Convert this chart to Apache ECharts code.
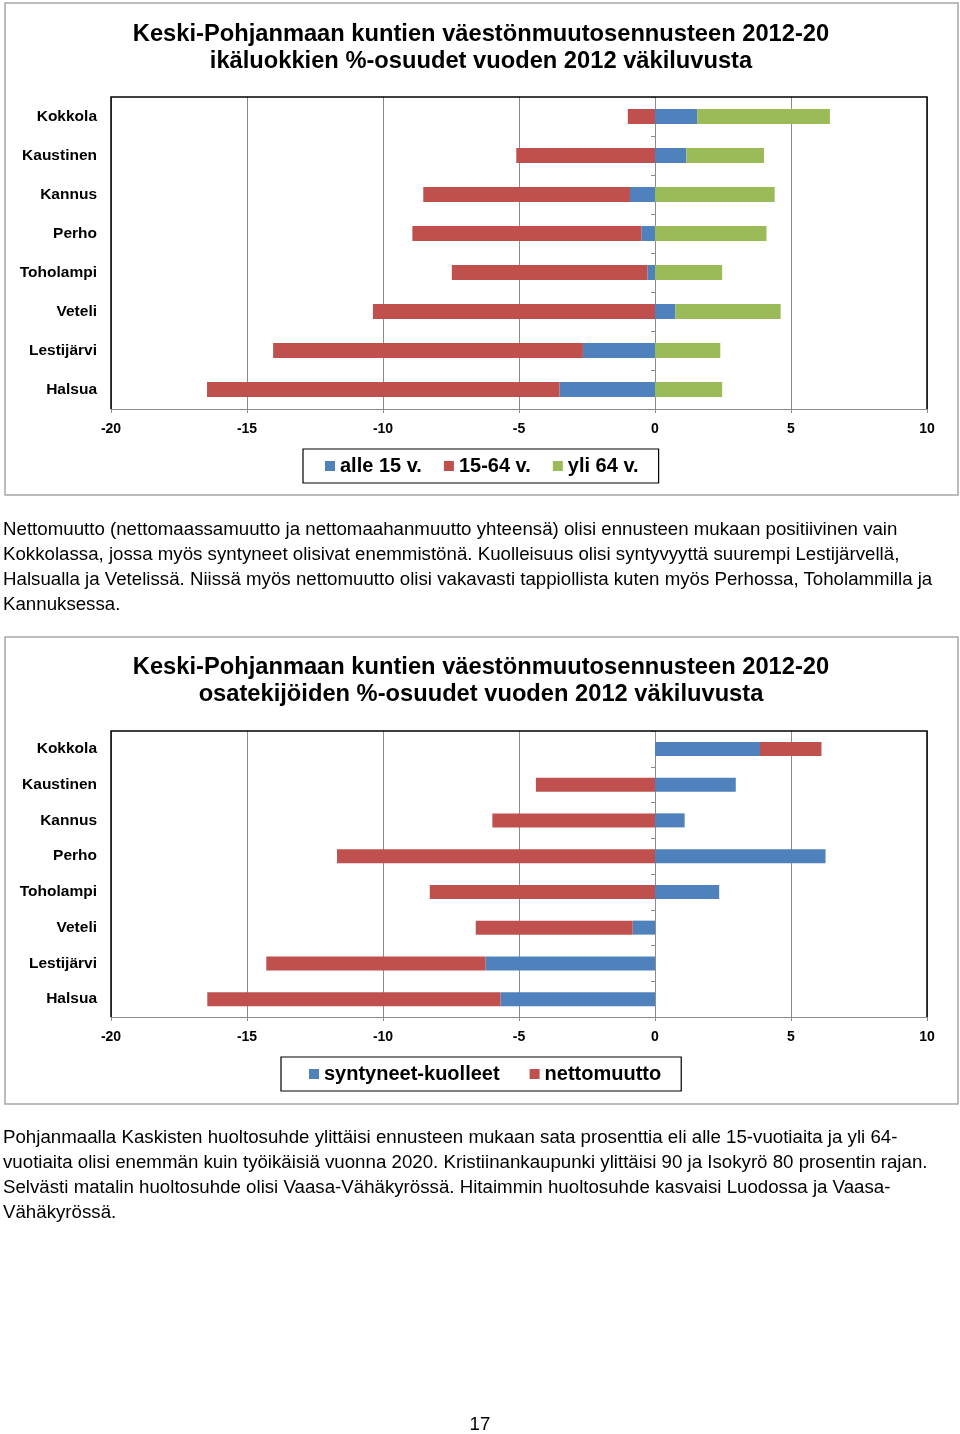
<!DOCTYPE html>
<html>
<head>
<meta charset="utf-8">
<script src="https://cdn.jsdelivr.net/npm/echarts@6/dist/echarts.min.js"></script>
<style>
  html, body { margin: 0; padding: 0; background: #fff; }
  #wrap { position: relative; width: 960px; height: 1434px; }
  #chart { position: absolute; left: 0; top: 0; width: 960px; height: 1434px; }
  .para { position: absolute; left: 3px; font-family: "Liberation Sans", Arial, sans-serif; font-size: 18.7px; line-height: 25px; color: #000; white-space: nowrap; }
  #pagenum { position: absolute; left: 0; width: 960px; text-align: center; top: 1413px; font-family: "Liberation Sans", Arial, sans-serif; font-size: 18.7px; line-height: 22px; }
</style>
</head>
<body>
<div id="wrap">
  <div id="chart"></div>
  <div class="para" style="top:516px">Nettomuutto (nettomaassamuutto ja nettomaahanmuutto yhteensä) olisi ennusteen mukaan positiivinen vain<br>Kokkolassa, jossa myös syntyneet olisivat enemmistönä. Kuolleisuus olisi syntyvyyttä suurempi Lestijärvellä,<br>Halsualla ja Vetelissä. Niissä myös nettomuutto olisi vakavasti tappiollista kuten myös Perhossa, Toholammilla ja<br>Kannuksessa.</div>
  <div class="para" style="top:1124px">Pohjanmaalla Kaskisten huoltosuhde ylittäisi ennusteen mukaan sata prosenttia eli alle 15-vuotiaita ja yli 64-<br>vuotiaita olisi enemmän kuin työikäisiä vuonna 2020. Kristiinankaupunki ylittäisi 90 ja Isokyrö 80 prosentin rajan.<br>Selvästi matalin huoltosuhde olisi Vaasa-Vähäkyrössä. Hitaimmin huoltosuhde kasvaisi Luodossa ja Vaasa-<br>Vähäkyrössä.</div>
  <div id="pagenum">17</div>
</div>
<script>
// ---- data ----
const municipalities = ['Kokkola', 'Kaustinen', 'Kannus', 'Perho', 'Toholampi', 'Veteli', 'Lestijärvi', 'Halsua'];
// chart 1: age groups (% of 2012 population)
const alle15 = [1.55, 1.15, -0.92, -0.5, -0.28, 0.75, -2.65, -3.51];
const ika15_64 = [-1.0, -5.1, -7.6, -8.42, -7.19, -10.37, -11.39, -12.96];
const yli64 = [4.88, 2.86, 4.4, 4.1, 2.47, 3.87, 2.4, 2.47];
// chart 2: components
const syntyneetKuolleet = [3.86, 2.97, 1.09, 6.27, 2.36, -0.82, -6.23, -5.68];
const nettomuutto = [2.26, -4.38, -5.98, -11.69, -8.28, -5.77, -8.06, -10.78];
// titles / legends / axis
const title1 = 'Keski-Pohjanmaan kuntien väestönmuutosennusteen 2012-20\nikäluokkien %-osuudet vuoden 2012 väkiluvusta';
const title2 = 'Keski-Pohjanmaan kuntien väestönmuutosennusteen 2012-20\nosatekijöiden %-osuudet vuoden 2012 väkiluvusta';
const legend1 = ['alle 15 v.', '15-64 v.', 'yli 64 v.'];
const legend2 = ['syntyneet-kuolleet', 'nettomuutto'];
const xMin = -20, xMax = 10, xStep = 5;

const BLUE = '#4F81BD', RED = '#C0504D', GREEN = '#9BBB59';
const FONT = '"Liberation Sans", Arial, sans-serif';

const chart = echarts.init(document.getElementById('chart'), null, { renderer: 'canvas' });

function xAxisCfg(gridIndex) {
  return {
    type: 'value', gridIndex, min: xMin, max: xMax, interval: xStep,
    axisLine: { show: true, onZero: false, lineStyle: { color: '#8c8c8c', width: 1 } },
    axisTick: { show: true, length: 4, lineStyle: { color: '#8c8c8c' } },
    axisLabel: { color: '#000', fontFamily: FONT, fontWeight: 'bold', fontSize: 14, margin: 13 },
    splitLine: { show: true, lineStyle: { color: '#8c8c8c', width: 1 } }
  };
}
function yLabelAxis(gridIndex) {
  return {
    type: 'category', gridIndex, data: municipalities, inverse: true, position: 'left',
    axisLine: { show: false, onZero: false }, axisTick: { show: false },
    axisLabel: { color: '#000', fontFamily: FONT, fontWeight: 'bold', fontSize: 15.5, margin: 14 },
    splitLine: { show: false }
  };
}
function yZeroAxis(gridIndex) {
  return {
    type: 'category', gridIndex, data: municipalities, inverse: true, position: 'left',
    axisLine: { show: true, onZero: true, lineStyle: { color: '#8c8c8c', width: 1 } },
    axisTick: { show: true, length: 4, lineStyle: { color: '#8c8c8c' } },
    axisLabel: { show: false }, splitLine: { show: false }
  };
}
function bar(name, data, color, xi, yi, stack, w) {
  return { name, type: 'bar', data, xAxisIndex: xi, yAxisIndex: yi, stack, barWidth: w,
           itemStyle: { color }, emphasis: { disabled: true }, animation: false };
}
const legendBase = {
  orient: 'horizontal', icon: 'rect', itemWidth: 10, itemHeight: 10, itemGap: 26,
  borderColor: '#000', borderWidth: 1.2, backgroundColor: '#fff',
  textStyle: { color: '#000', fontFamily: FONT, fontWeight: 'bold', fontSize: 20 },
  selectedMode: false
};
const titleBase = {
  left: 'center', padding: 0,
  textStyle: { color: '#000', fontFamily: FONT, fontWeight: 'bold', fontSize: 23.7, lineHeight: 27 },
  textAlign: 'center'
};

const option = {
  animation: false,
  backgroundColor: '#fff',
  graphic: [
    { type: 'rect', shape: { x: 5, y: 3, width: 953, height: 492 }, style: { fill: null, stroke: '#a6a6a6', lineWidth: 1.5 }, z: -10 },
    { type: 'rect', shape: { x: 5, y: 637, width: 953, height: 467 }, style: { fill: null, stroke: '#a6a6a6', lineWidth: 1.5 }, z: -10 },
    { type: 'polyline', shape: { points: [[111, 409], [111, 97], [927, 97], [927, 409]] }, style: { fill: null, stroke: '#000', lineWidth: 1.5 }, z: 100 },
    { type: 'polyline', shape: { points: [[111, 1017], [111, 731], [927, 731], [927, 1017]] }, style: { fill: null, stroke: '#000', lineWidth: 1.5 }, z: 100 }
  ],
  title: [
    Object.assign({}, titleBase, { text: title1, left: 481, top: 21 }),
    Object.assign({}, titleBase, { text: title2, left: 481, top: 654 })
  ],
  legend: [
    Object.assign({}, legendBase, { data: legend1, left: 303, top: 449, padding: [7, 20, 7, 22], itemGap: 22 }),
    Object.assign({}, legendBase, { data: legend2, left: 281, top: 1057, padding: [7, 20, 7, 28], itemGap: 30 })
  ],
  grid: [
    { left: 111, top: 97, width: 816, height: 312, containLabel: false },
    { left: 111, top: 731, width: 816, height: 286, containLabel: false }
  ],
  xAxis: [xAxisCfg(0), xAxisCfg(1)],
  yAxis: [yLabelAxis(0), yZeroAxis(0), yLabelAxis(1), yZeroAxis(1)],
  series: [
    bar(legend1[0], alle15, BLUE, 0, 0, 'a', 15),
    bar(legend1[1], ika15_64, RED, 0, 0, 'a', 15),
    bar(legend1[2], yli64, GREEN, 0, 0, 'a', 15),
    bar(legend2[0], syntyneetKuolleet, BLUE, 1, 2, 'b', 14),
    bar(legend2[1], nettomuutto, RED, 1, 2, 'b', 14)
  ]
};
chart.setOption(option);
</script>
</body>
</html>
